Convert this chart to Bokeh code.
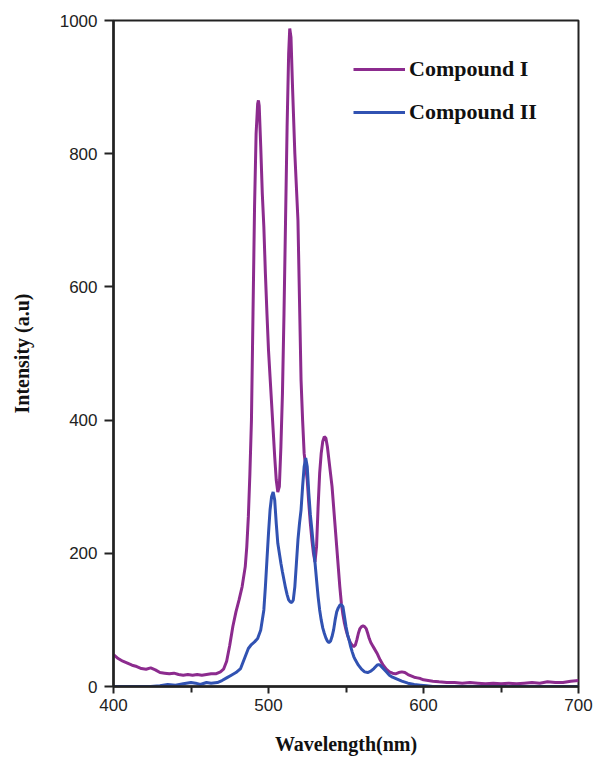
from bokeh.plotting import figure
from bokeh.models import Range1d, FixedTicker, Legend, LegendItem
from bokeh.embed import file_html
from bokeh.resources import INLINE

# Compound I (purple)
wl1 = [400, 403, 406, 409, 412, 415, 418, 421, 424, 427, 430, 433, 436, 439, 442, 445, 448, 451,
       454, 457, 460, 463, 466, 469, 471, 473, 475, 477, 479, 481, 483, 485, 486, 487, 488, 489,
       490, 491, 492, 493, 493.5, 494, 495, 496, 497, 498, 499, 500, 501, 502, 503, 504, 505, 506,
       507, 508, 509, 510, 511, 512, 513, 513.7, 514.5, 515.5, 517, 518, 519, 520, 521, 522, 523,
       524, 525, 526, 527, 528, 529, 530, 531, 532, 533, 534, 535, 536, 537, 538, 539, 540, 541,
       542, 543, 544, 545, 546, 547, 548, 549, 550, 551, 552, 553, 554, 555, 556, 557, 558, 559,
       560, 561, 562, 563, 564, 565, 566, 567, 568, 570, 572, 574, 576, 578, 580, 582, 584, 586,
       588, 590, 592, 594, 596, 598, 600, 603, 606, 610, 615, 620, 625, 630, 635, 640, 645, 650,
       655, 660, 665, 670, 675, 680, 685, 690, 695, 700]
int1 = [48, 42, 38, 35, 32, 30, 27, 26, 28, 25, 21, 20, 19, 20, 18, 17, 18, 17,
        18, 17, 18, 19, 19, 22, 26, 38, 62, 90, 112, 130, 150, 180, 210, 255, 320, 400,
        560, 720, 830, 875, 880, 872, 810, 740, 690, 620, 560, 505, 465, 425, 385, 345, 310, 292,
        300, 360, 440, 560, 700, 840, 950, 988, 975, 900, 800, 750, 700, 580, 460, 400, 350,
        330, 310, 275, 245, 220, 200, 187, 210, 270, 320, 350, 368, 375, 373, 360, 340, 320, 300,
        270, 240, 210, 180, 150, 125, 108, 95, 85, 77, 70, 65, 62, 60, 62, 70, 80, 87,
        90, 91, 90, 87, 80, 72, 66, 62, 58, 50, 40, 32, 26, 22, 20, 19, 21, 22,
        21, 18, 16, 14, 13, 12, 10, 9, 8, 7, 6, 6, 5, 6, 5, 4, 5, 4,
        5, 4, 5, 6, 5, 7, 6, 6, 8, 9]

# Compound II (blue)
wl2 = [400, 410, 420, 424, 430, 435, 440, 445, 450, 453, 456, 460, 463, 467, 470, 473, 476, 479,
       482, 485, 487, 489, 491, 493, 495, 496, 497, 498, 499, 500, 501, 502, 503, 504, 505, 506,
       507, 508, 509, 510, 511, 512, 513, 514, 515, 516, 517, 518, 519, 520, 521, 522, 523, 524,
       525, 526, 527, 528, 529, 530, 531, 532, 533, 534, 535, 536, 537, 538, 539, 540, 541, 542,
       543, 544, 545, 546, 547, 548, 549, 550, 551, 552, 553, 554, 555, 556, 558, 560, 562, 564,
       566, 568, 570, 571, 572, 574, 576, 578, 580, 583, 586, 590, 594, 598, 602, 606, 650, 700]
int2 = [0, 0, 0, 0, 1, 3, 2, 4, 6, 5, 3, 6, 5, 6, 9, 13, 17, 21,
        27, 45, 57, 63, 67, 72, 85, 100, 115, 150, 190, 230, 265, 285, 292, 280, 245, 215,
        200, 185, 172, 160, 148, 138, 130, 127, 126, 130, 150, 185, 220, 245, 265, 300, 330, 343,
        330, 290, 258, 235, 210, 186, 160, 135, 115, 100, 88, 80, 73, 68, 66, 68, 75, 85,
        100, 112, 118, 122, 123, 120, 105, 90, 78, 70, 60, 52, 45, 40, 32, 26, 22, 21,
        23, 27, 32, 33, 32, 27, 22, 17, 14, 11, 8, 5, 3, 2, 1, 0, 0, 0]

x_ticks = [400, 500, 600, 700]
x_minor = [450, 550, 650]
y_ticks = [0, 200, 400, 600, 800, 1000]
series_names = ["Compound I", "Compound II"]

p = figure(width=594, height=757, output_backend="svg", toolbar_location=None,
           x_range=Range1d(400, 700), y_range=Range1d(0, 1000),
           min_border_left=113, min_border_right=16, min_border_top=20, min_border_bottom=70)
p.background_fill_color = "white"
p.border_fill_color = "white"
p.grid.visible = False
p.outline_line_color = "#222222"
p.outline_line_width = 2

r1 = p.line(wl1, int1, line_color="#8c2b8e", line_width=3)
r2 = p.line(wl2, int2, line_color="#3152b2", line_width=3)

p.xaxis.ticker = FixedTicker(ticks=x_ticks, minor_ticks=x_minor)
p.yaxis.ticker = FixedTicker(ticks=y_ticks)
for ax in (p.xaxis[0], p.yaxis[0]):
    ax.axis_line_color = "#222222"
    ax.axis_line_width = 2.5
    ax.major_tick_line_color = "#222222"
    ax.major_tick_line_width = 2
    ax.major_tick_in = 0
    ax.minor_tick_line_color = "#222222"
    ax.minor_tick_line_width = 2
    ax.minor_tick_in = 0
    ax.major_label_text_font = "Liberation Sans"
    ax.major_label_text_font_size = "17px"
    ax.major_label_text_color = "#222222"
    ax.axis_label_text_font = "Liberation Serif"
    ax.axis_label_text_font_style = "bold"
    ax.axis_label_text_font_size = "20px"
    ax.axis_label_text_color = "#111111"

p.xaxis.major_tick_out = 7
p.xaxis.minor_tick_out = 6
p.xaxis.major_label_standoff = 5
p.xaxis.axis_label = "Wavelength(nm)"
p.xaxis.axis_label_standoff = 19

p.yaxis.major_tick_out = 9
p.yaxis.minor_tick_line_color = None
p.yaxis.major_label_standoff = 7
p.yaxis.axis_label = "Intensity (a.u)"
p.yaxis.axis_label_standoff = 24

legend = Legend(items=[LegendItem(label=series_names[0], renderers=[r1]),
                       LegendItem(label=series_names[1], renderers=[r2])],
                location=(240, 561))
legend.label_text_font = "Liberation Serif"
legend.label_text_font_style = "bold"
legend.label_text_font_size = "22px"
legend.label_text_color = "#111111"
legend.glyph_width = 52
legend.glyph_height = 22
legend.label_height = 22
legend.label_standoff = 4
legend.spacing = 17
legend.padding = 0
legend.margin = 0
legend.border_line_alpha = 0
legend.background_fill_alpha = 0
p.add_layout(legend)

open("out.html", "w").write(file_html(p, INLINE))
